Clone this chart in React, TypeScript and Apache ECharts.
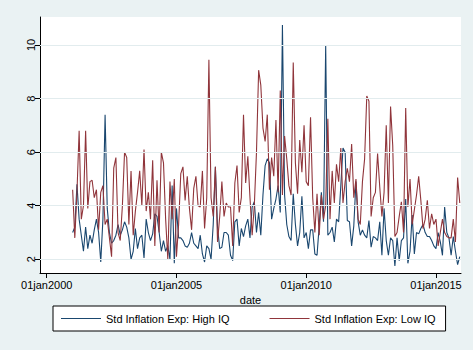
import React, { useEffect, useRef } from "react";
import * as echarts from "echarts";

// Monthly observations, January 2001 to December 2015
const START_YEAR = 2001;

const HIGH_IQ = [
  3.0, 3.2, 4.8, 3.5, 2.9, 2.3, 3.2, 2.4, 2.9, 2.6, 3.1, 3.5,
  3.0, 1.9, 3.5, 7.4, 3.9, 3.0, 2.6, 2.7, 2.9, 3.3, 2.9, 3.1,
  3.4, 3.2, 2.8, 2.0, 2.3, 3.15, 2.4, 2.8, 2.9, 2.05, 3.5, 3.0,
  2.7, 2.95, 3.7, 3.6, 3.0, 2.3, 2.7, 2.3, 2.5, 2.0, 4.75, 1.85,
  3.9, 2.8, 2.8, 2.7, 2.5, 2.45, 2.6, 3.0, 2.6, 2.5, 2.4, 2.9,
  2.2, 1.9, 2.5, 2.4, 2.0, 3.3, 5.45, 3.2, 2.4, 2.45, 3.0, 3.0,
  2.9, 2.15, 1.95, 3.4, 3.5, 2.5, 3.15, 2.85, 3.25, 3.5, 2.8, 3.95,
  4.15, 3.0, 3.75, 2.9, 4.4, 5.5, 5.75, 5.6, 3.5, 3.9, 4.25, 4.75,
  3.75, 10.75, 4.4, 3.3, 2.85, 2.7, 4.45, 3.3, 2.5, 3.0, 4.35, 2.8,
  3.0, 2.4, 3.1, 3.1, 2.2, 2.15, 3.25, 4.5, 3.4, 10.0, 2.9, 3.0,
  3.2, 2.65, 3.5, 3.4, 4.75, 6.15, 6.0, 3.45, 3.4, 2.5, 3.25, 4.9,
  3.4, 2.9, 3.1, 2.9, 2.8, 3.45, 2.45, 2.85, 2.8, 2.7, 3.4, 2.15,
  3.9, 2.7, 2.15, 2.8, 2.7, 1.75, 2.8, 1.95, 2.7, 2.8, 4.25, 1.85,
  2.3, 3.65, 2.2, 3.0, 2.95, 3.15, 3.3, 3.0, 2.85, 2.85, 2.7, 2.5,
  2.4, 3.0, 2.65, 2.15, 3.95, 3.0, 2.8, 2.15, 2.85, 2.3, 1.8, 2.1,
];

const LOW_IQ = [
  4.6, 2.8, 4.5, 6.8, 3.5, 4.0, 6.8, 3.9, 4.9, 4.95, 4.3, 4.6,
  3.1, 4.5, 4.75, 3.3, 3.5, 2.8, 2.1, 5.4, 5.8, 3.0, 2.7, 4.0,
  6.0, 5.8, 3.3, 5.3, 2.9, 3.8, 4.5, 5.3, 4.0, 6.1, 3.8, 4.5,
  3.5, 5.7, 2.5, 4.95, 3.0, 6.0, 5.6, 3.5, 2.0, 4.9, 3.5, 5.0,
  2.1, 3.3, 5.2, 5.45, 4.2, 5.1, 3.9, 3.1, 4.65, 5.1, 4.0, 3.95,
  5.3, 3.15, 4.3, 9.45, 4.3, 3.6, 5.45, 2.65, 3.6, 4.9, 3.6, 4.1,
  3.95, 3.95, 2.5, 4.85, 5.5, 3.75, 4.3, 7.4, 4.85, 5.85, 4.3, 2.9,
  4.0, 6.0, 9.06, 8.5, 6.9, 6.4, 7.4, 4.6, 5.8, 5.1, 7.2, 4.5,
  8.3, 4.4, 6.6, 5.75, 4.75, 4.4, 9.35, 5.6, 4.45, 6.45, 5.25, 7.0,
  4.9, 4.75, 7.3, 4.3, 3.0, 4.45, 2.9, 4.4, 3.5, 4.0, 7.25, 3.5,
  5.3, 4.1, 5.55, 4.9, 6.15, 4.1, 4.9, 5.4, 4.9, 6.3, 4.3, 5.0,
  3.5, 3.3, 4.9, 5.75, 8.1, 7.9, 3.6, 4.3, 4.5, 5.95, 4.7, 3.6,
  4.5, 7.0, 4.1, 7.7, 6.25, 2.85, 3.0, 3.6, 4.15, 3.0, 7.65, 3.95,
  5.0, 3.3, 3.85, 4.4, 5.1, 4.2, 3.15, 3.5, 4.2, 3.15, 3.7, 3.3,
  3.5, 2.5, 3.0, 3.5, 3.0, 2.85, 2.8, 2.8, 3.5, 2.65, 5.05, 4.1,
];

const X_TICKS = [2000, 2005, 2010, 2015];
const Y_TICKS = [2, 4, 6, 8, 10];
const SERIES_NAMES = ["Std Inflation Exp: High IQ", "Std Inflation Exp: Low IQ"];
const X_TITLE = "date";

const toPairs = (vals: number[]) => vals.map((v, i) => [START_YEAR + i / 12, v]);

const FONT = "'Liberation Sans', Arial, sans-serif";

export default function App() {
  const ref = useRef<HTMLDivElement>(null);
  useEffect(() => {
    if (!ref.current) return;
    const chart = echarts.init(ref.current, undefined, { renderer: "svg" });
    chart.setOption({
      animation: false,
      backgroundColor: "#EAF2F3",
      textStyle: { fontFamily: FONT },
      grid: {
        left: 40,
        right: 12,
        top: 17,
        bottom: 77,
        show: true,
        backgroundColor: "#FFFFFF",
        borderWidth: 0,
      },
      xAxis: {
        type: "value",
        min: 1999.742,
        max: 2015.964,
        axisLine: { show: true, onZero: false, lineStyle: { color: "#000", width: 1 } },
        axisTick: { show: true, length: 5, customValues: X_TICKS, lineStyle: { color: "#000" } },
        axisLabel: {
          customValues: X_TICKS,
          formatter: (v: number) => "01jan" + Math.round(v),
          color: "#000",
          fontSize: 11,
          margin: 6,
          fontFamily: FONT,
        },
        splitLine: { show: false },
        name: X_TITLE,
        nameLocation: "middle",
        nameGap: 18,
        nameTextStyle: { color: "#000", fontSize: 11, fontFamily: FONT },
      },
      yAxis: {
        type: "value",
        min: 1.489,
        max: 11.045,
        axisLine: { show: true, onZero: false, lineStyle: { color: "#000", width: 1 } },
        axisTick: { show: true, length: 5, customValues: Y_TICKS, lineStyle: { color: "#000" } },
        axisLabel: {
          customValues: Y_TICKS,
          rotate: 90,
          color: "#000",
          fontSize: 11,
          margin: 4,
          fontFamily: FONT,
        },
        splitLine: { show: false },
      },
      legend: {
        data: SERIES_NAMES,
        left: 53,
        top: 306,
        orient: "horizontal",
        icon: "rect",
        itemWidth: 40,
        itemHeight: 1.2,
        itemGap: 40,
        padding: [7, 10, 7, 8],
        borderColor: "#000",
        borderWidth: 1,
        borderRadius: 0,
        backgroundColor: "#FFFFFF",
        textStyle: { fontSize: 11, color: "#000", fontFamily: FONT },
      },
      series: [
        {
          name: "grid",
          type: "line",
          data: [],
          silent: true,
          z: 1,
          markLine: {
            silent: true,
            symbol: "none",
            label: { show: false },
            lineStyle: { color: "#E2ECEE", width: 1, type: "solid" },
            data: Y_TICKS.map((v) => ({ yAxis: v })),
          },
        },
        {
          name: SERIES_NAMES[0],
          type: "line",
          data: toPairs(HIGH_IQ),
          showSymbol: false,
          symbol: "none",
          z: 3,
          lineStyle: { color: "#1A476F", width: 1.1 },
          itemStyle: { color: "#1A476F" },
        },
        {
          name: SERIES_NAMES[1],
          type: "line",
          data: toPairs(LOW_IQ),
          showSymbol: false,
          symbol: "none",
          z: 3,
          lineStyle: { color: "#90353B", width: 1.1 },
          itemStyle: { color: "#90353B" },
        },
      ],
    });
    return () => chart.dispose();
  }, []);
  return <div ref={ref} style={{ width: 473, height: 350, position: "absolute", left: 0, top: 0 }} />;
}
